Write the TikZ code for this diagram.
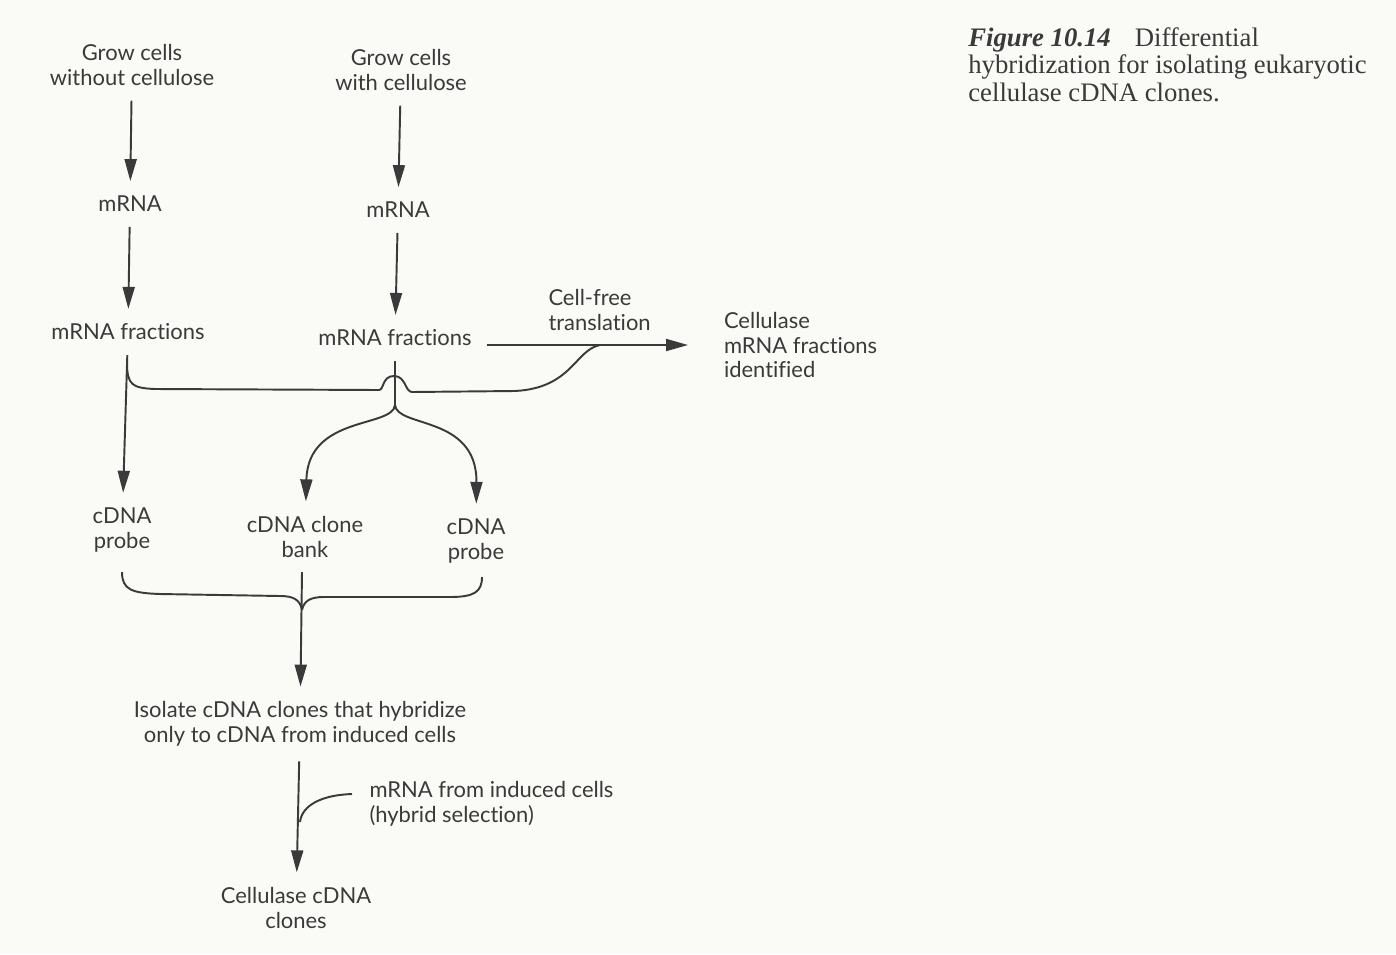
\documentclass[tikz,border=0pt]{standalone}
\usepackage{fontspec}
\setmainfont{Lato}[Ligatures={NoCommon,NoRequired,NoContextual}]
\newfontfamily\capfont{Liberation Serif}
\usetikzlibrary{arrows.meta}
\definecolor{ink}{HTML}{3A3A3A}
\definecolor{paper}{HTML}{FAFAF7}

\begin{document}
\begin{tikzpicture}
[x=0.02cm,y=-0.02cm,
 lbl/.style={text=ink,font=\fontsize{12.5}{14.2}\selectfont,align=center,
   inner sep=0.5mm,outer sep=2.5mm},
 sidelbl/.style={lbl,align=left,anchor=west},
 flow/.style={draw=ink,line width=1.1pt,-{Triangle[length=4.4mm,width=2.4mm]}},
 brace/.style={draw=ink,line width=1.1pt}]
  \fill[paper] (0,0) rectangle (1396,954);
  \useasboundingbox (0,0) rectangle (1396,954);
  % left column
  \node[lbl] (growWithout) at (132,65) {Grow cells\\without cellulose};
  \node[lbl] (mrnaLeft)    at (130,204) {mRNA};
  \node[lbl] (fracLeft)    at (128,332) {mRNA fractions};
  \node[lbl] (probeLeft)   at (122,530) {cDNA\\probe};
  % middle column
  \node[lbl] (growWith)    at (401,70) {Grow cells\\with cellulose};
  \node[lbl] (mrnaRight)   at (398,210) {mRNA};
  \node[lbl] (fracRight)   at (395,338) {mRNA fractions};
  \node[lbl] (cloneBank)   at (305,537) {cDNA clone\\bank};
  \node[lbl] (probeRight)  at (476,541) {cDNA\\probe};
  % right side
  \node[sidelbl,outer sep=0pt] (cellFree) at (546,310) {Cell-free\\translation};
  \node[sidelbl] (identified) at (709,345) {Cellulase\\mRNA fractions\\identified};
  % bottom
  \node[lbl] (isolate)     at (300,724) {Isolate cDNA clones that hybridize\\only to cDNA from induced cells};
  \node[sidelbl,outer sep=0pt] (hybSel) at (367,804) {mRNA from induced cells\\(hybrid selection)};
  \node[lbl] (cellClones)  at (296,908) {Cellulase cDNA\\clones};
  % caption
  \node[anchor=north west,align=left,inner sep=0pt,text=ink,
    font=\capfont\fontsize{15.2}{15.8}\selectfont] (caption) at (968,27)
    {\textbf{\textit{Figure 10.14}}\hspace{0.9em}Differential\\
     hybridization for isolating eukaryotic\\cellulase cDNA clones.};

  \coordinate (leftJoin)  at (127,362);
  \coordinate (split)     at (395,405);
  \coordinate (mergeTop)  at (600,345);
  \coordinate (braceL)    at (122,572);
  \coordinate (braceR)    at (482,577);
  \coordinate (braceTop)  at (302,572);
  \coordinate (braceMid)  at (302,610);
  \coordinate (hybStart)  at (352,794);

  \draw[flow] (growWithout) -- (mrnaLeft);
  \draw[flow] (mrnaLeft) -- (fracLeft);
  \draw[flow] (fracLeft) -- (probeLeft);
  \draw[flow] (growWith) -- (mrnaRight);
  \draw[flow] (mrnaRight) -- (fracRight);
  \draw[flow,shorten >=4.2mm] (fracRight.east |- mergeTop) -- (identified.west |- mergeTop);
  \draw[brace] (fracRight) -- (split);
  % curve from left fractions, hopping over the middle line
  \draw[brace] (leftJoin) .. controls (127,385) and (132,388) .. (155,389)
    -- (379,390) .. controls (384,390) and (382,376) .. (394,376)
    .. controls (406,376) and (405,392) .. (412,392)
    -- (515,391) .. controls (572,388) and (575,350) .. (mergeTop);
  \draw[flow] (split) .. controls (393,428) and (308,415) .. (cloneBank);
  \draw[flow] (split) .. controls (397,428) and (477,415) .. (probeRight);
  % lower brace
  \draw[brace] (braceL) .. controls (122,590) and (132,593) .. (160,594)
    -- (280,596) .. controls (294,596) and (300,600) .. (braceMid);
  \draw[brace] (braceR) .. controls (482,592) and (474,597) .. (450,597)
    -- (324,597) .. controls (310,597) and (304,601) .. (braceMid);
  \draw[flow] (braceTop) -- (isolate);
  \draw[flow] (isolate) -- (cellClones);
  \draw[brace] (hybStart) .. controls (322,795) and (302,805) .. (300,822);
\end{tikzpicture}
\end{document}
